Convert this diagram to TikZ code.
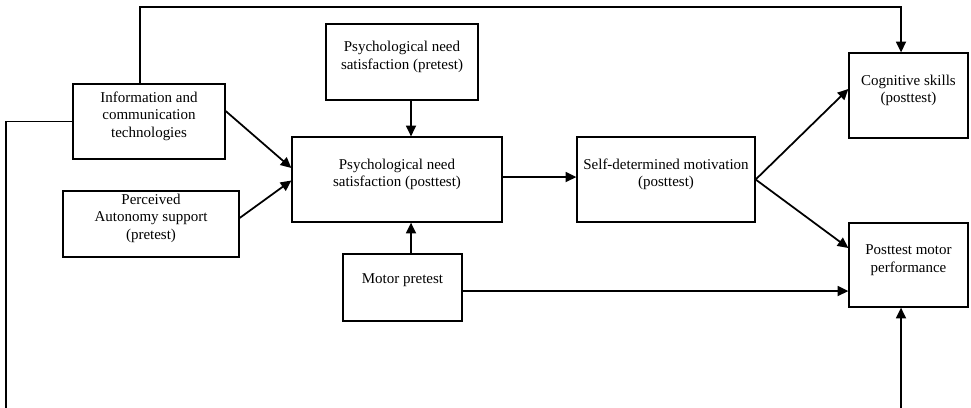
\documentclass[tikz,border=0pt]{standalone}
\usepackage{fontspec}
\setmainfont{Liberation Serif}
\usetikzlibrary{arrows.meta,fit}
\begin{document}
\begin{tikzpicture}[x=0.03cm,y=-0.03cm,
  txt/.style={align=center,font=\fontsize{12.8}{15}\selectfont},
  box/.style={draw,line width=1.1pt,inner sep=0pt,txt},
  arr/.style={line width=1.5pt,-{Triangle[length=0.32cm,width=0.3cm]}},
  plain/.style={line width=0.9pt}]
\useasboundingbox (0,0) rectangle (971,407);
\clip (0,0) rectangle (971,407);
\node[box,fit={(73,84)(225,159)}] (ict) {Information and\\communication\\technologies};
\node[box,fit={(63,191)(239,257)},
  label={[txt,yshift=5pt]center:Perceived\\Autonomy support\\(pretest)}] (aut) {};
\node[box,fit={(326,24)(478,100)}] (pnpre) {Psychological need\\satisfaction (pretest)};
\node[box,fit={(292,137)(502,222)}] (pnpost) {Psychological need\\satisfaction (posttest)};
\node[box,fit={(343,254)(462,321)},
  label={[txt,yshift=6.5pt]center:Motor pretest}] (mot) {};
\node[box,fit={(577,137)(755,222)}] (sdm) {Self-determined motivation\\(posttest)};
\node[box,fit={(849,53)(968,138)},
  label={[txt,yshift=4.5pt]center:Cognitive skills\\(posttest)}] (cog) {};
\node[box,fit={(849,223)(968,307)}] (pmp) {Posttest motor\\performance};
\coordinate (vx) at (411,0);
\coordinate (hy) at (0,291);
\coordinate (topl) at (140,7);
\coordinate (topr) at (901,7);
\coordinate (botl) at (6,420);
\coordinate (botr) at (901,420);
% arrows
\draw[arr] ([yshift=0.315cm]ict.east) -- ([yshift=0.345cm]pnpost.west);
\draw[arr] ([yshift=0.18cm]aut.east) -- ([yshift=-0.03cm]pnpost.west);
\draw[arr] (vx |- pnpre.south) -- (vx |- pnpost.north);
\draw[arr] (vx |- mot.north) -- (vx |- pnpost.south);
\draw[arr] ([yshift=0.075cm]pnpost.east) -- ([yshift=0.075cm]sdm.west);
\draw[arr] (sdm.east) -- ([yshift=0.195cm]cog.west);
\draw[arr] (sdm.east) -- ([yshift=0.51cm]pmp.west);
\draw[arr] (mot.east |- hy) -- (pmp.west |- hy);
\draw[arr] (topl |- ict.north) -- (topl) -- (topr) -- (topr |- cog.north);
\draw[arr] (ict.west) -- (botl |- ict.west) -- (botl) -- (botr) -- (botr |- pmp.south);
\end{tikzpicture}
\end{document}
